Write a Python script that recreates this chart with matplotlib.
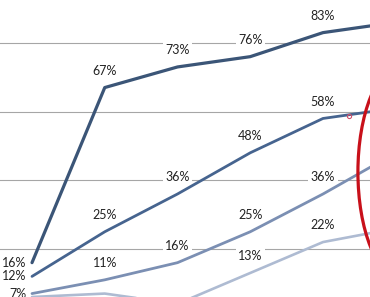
import matplotlib
matplotlib.use("Agg")
import matplotlib.pyplot as plt
from matplotlib.patches import Ellipse

plt.rcParams["font.family"] = ["Lato", "DejaVu Sans"]

# category positions (labels are outside the visible crop)
x_pos = [0, 1, 2, 3, 4, 5]

series_1 = [16, 67, 73, 76, 83, 86]
series_2 = [12, 25, 36, 48, 58, 61]
series_3 = [7, 11, 16, 25, 36, 48]
series_4 = [6, 7, 4, 13, 22, 26]

# which points carry a visible label ("left" = placed left of the point)
labels_1 = ["left", "up", "up", "up", "up", None]
labels_2 = ["left", "up", "up", "up", "up", None]
labels_3 = ["left", "up", "up", "up", "up", None]
labels_4 = [None, None, "up", "up", "up", None]

grid_values = [20, 40, 60, 80]

colors = ["#3b5577", "#46648f", "#7b8fb3", "#aebbd2"]
widths = [2.3, 2.0, 2.0, 1.9]


def draw_labels(ax, xs, ys, where):
    for x, y, w in zip(xs, ys, where):
        if w is None:
            continue
        txt = "%d%%" % y
        if w == "left":
            ax.annotate(txt, (x, y), xytext=(-4, 0), textcoords="offset points",
                        ha="right", va="center", fontsize=9, color="#222222",
                        zorder=2)
        else:
            ax.annotate(txt, (x, y), xytext=(0, 12), textcoords="offset points",
                        ha="center", va="center", fontsize=9, color="#222222",
                        bbox=dict(boxstyle="square,pad=0.2", fc="white", ec="none"),
                        zorder=2)


fig = plt.figure(figsize=(3.7, 2.97), dpi=100)
ax = fig.add_axes([0, 0, 1, 1])

for yv in grid_values:
    ax.axhline(yv, color="#a6a6a6", lw=0.8, zorder=1)

all_series = [series_1, series_2, series_3, series_4]
all_labels = [labels_1, labels_2, labels_3, labels_4]
for s, c, lw in zip(all_series, colors, widths):
    ax.plot(x_pos, s, color=c, lw=lw, solid_capstyle="round", zorder=3)
for s, lab in zip(all_series, all_labels):
    draw_labels(ax, x_pos, s, lab)

# red highlight ellipse on the right edge
ax.add_patch(Ellipse((5.08, 42.4), 1.2, 62, fill=False, ec="#c8101a", lw=2.3, zorder=6))
ax.plot([4.36], [58.7], marker="o", ms=3, mfc="none", mec="#d0506a", mew=0.8, zorder=6)

ax.set_xlim(-0.44, 4.646)
ax.set_ylim(6.0, 92.5)
ax.axis("off")

fig.savefig("out.png", dpi=100)
